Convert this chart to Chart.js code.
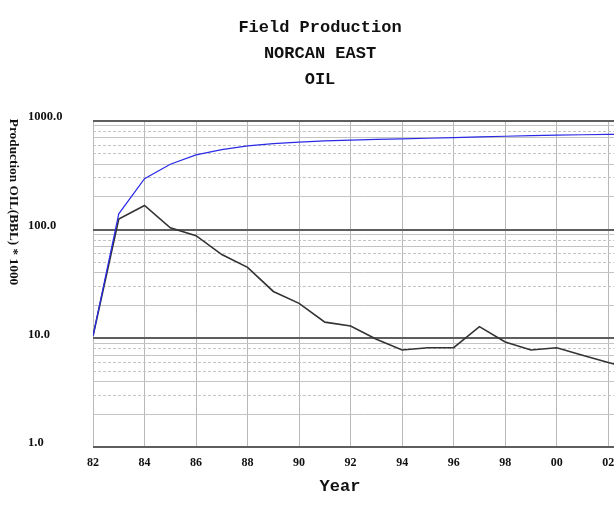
<!DOCTYPE html>
<html>
<head>
<meta charset="utf-8">
<title>Field Production - NORCAN EAST - OIL</title>
<script src="https://cdn.jsdelivr.net/npm/chart.js@4/dist/chart.umd.min.js"></script>
<style>
  html, body { margin: 0; padding: 0; background: #fff; overflow: hidden; }
  #wrap { width: 640px; height: 510px; }
</style>
</head>
<body>
<div id="wrap"><canvas id="grafico" width="640" height="510"></canvas></div>
<script>
// years on the x axis (chart continues past the right edge of the window)
const anos = [1982, 1983, 1984, 1985, 1986, 1987, 1988, 1989, 1990, 1991, 1992,
              1993, 1994, 1995, 1996, 1997, 1998, 1999, 2000, 2001, 2002, 2003];

// yearly oil production, BBL * 1000 (black line)
const producaoAnual = [10.5, 125, 167, 104, 88, 59, 45, 27, 21, 14.1, 13.0,
                       9.8, 7.8, 8.2, 8.2, 12.8, 9.25, 7.8, 8.2, 7.0, 6.0, 5.2];

// cumulative production, BBL * 1000 (blue line)
const producaoAcumulada = [10.5, 140, 295, 400, 488, 545, 590, 618, 640, 655, 668,
                           678, 686, 694, 702, 715, 724, 732, 740, 747, 753, 758];

const titulo = ["Field Production", "NORCAN EAST", "OIL"];

// axis ticks
const anosTicks = [1982, 1984, 1986, 1988, 1990, 1992, 1994, 1996, 1998, 2000, 2002];
const decadas = [1, 10, 100, 1000];
const multiplicadores = [1, 2, 3, 4, 5, 6, 7, 8, 9];
// minor lines drawn dashed (the rest are solid)
const multDashed = [3, 5, 6, 8];

const ticksY = [];
decadas.forEach(d => {
    multiplicadores.forEach(m => {
        const v = d * m;
        if (v <= 1000 && !ticksY.includes(v)) ticksY.push(v);
    });
});

function ehDecada(v) {
    return decadas.includes(v);
}

function significando(v) {
    return Math.round(v / Math.pow(10, Math.floor(Math.log10(v) + 1e-9)));
}

// title centred on the whole page, y title reads top-to-bottom,
// "Year" sits left of the plot centre
const textos = {
    id: "textos",
    afterDraw(chart) {
        const { ctx, chartArea } = chart;

        ctx.save();
        ctx.fillStyle = "#111";
        ctx.textAlign = "center";
        ctx.textBaseline = "middle";
        ctx.font = "bold 17px 'Liberation Mono'";
        titulo.forEach((linha, i) => {
            ctx.fillText(linha, 320, 28 + i * 26);
        });
        ctx.fillText("Year", chartArea.left + 247, chartArea.bottom + 40);

        ctx.font = "bold 13.3px 'Liberation Serif'";
        ctx.translate(13, chartArea.top + 81);
        ctx.rotate(Math.PI / 2);
        ctx.fillText("Production OIL(BBL) * 1000", 0, 0);
        ctx.restore();
    }
};

const ctxGrafico = document.getElementById("grafico").getContext("2d");

new Chart(ctxGrafico, {
    type: "line",
    data: {
        datasets: [
            {
                label: "Cumulative",
                data: anos.map((a, i) => ({ x: a, y: producaoAcumulada[i] })),
                borderColor: "#2a2ae6",
                borderWidth: 1.2,
                pointRadius: 0,
                tension: 0,
            },
            {
                label: "Annual",
                data: anos.map((a, i) => ({ x: a, y: producaoAnual[i] })),
                borderColor: "#333333",
                borderWidth: 1.6,
                pointRadius: 0,
                tension: 0,
            },
        ],
    },
    options: {
        responsive: false,
        animation: false,
        layout: { padding: { left: 28, right: 6, top: 121, bottom: 0 } },
        plugins: {
            legend: { display: false },
            tooltip: { enabled: false },
            title: { display: false },
        },
        scales: {
            x: {
                type: "linear",
                min: 1982,
                max: 2003,
                afterBuildTicks: scale => {
                    scale.ticks = anosTicks.map(v => ({ value: v }));
                },
                afterFit: scale => { scale.height = 63; },
                grid: { color: "#b8b8b8", lineWidth: 1, drawTicks: false },
                border: { display: false },
                ticks: {
                    autoSkip: false,
                    maxRotation: 0,
                    padding: 9,
                    color: "#111",
                    font: { family: "'Liberation Serif'", size: 12, weight: "bold" },
                    callback: v => String(v).slice(2),
                },
            },
            y: {
                type: "logarithmic",
                min: 1,
                max: 1000,
                afterBuildTicks: scale => {
                    scale.ticks = ticksY.map(v => ({ value: v }));
                },
                afterFit: scale => { scale.width = 65; },
                grid: {
                    drawTicks: false,
                    color: c => ehDecada(c.tick.value) ? "#5e5e5e" : "#c4c4c4",
                    lineWidth: c => ehDecada(c.tick.value) ? 2 : 1,
                },
                border: {
                    display: false,
                    dash: c => (c.tick && multDashed.includes(significando(c.tick.value))) ? [3, 2] : [],
                },
                ticks: {
                    autoSkip: false,
                    crossAlign: "far",
                    labelOffset: -4,
                    color: "#111",
                    font: { family: "'Liberation Serif'", size: 12.5, weight: "bold" },
                    callback: v => ehDecada(v) ? v.toFixed(1) : "",
                },
            },
        },
    },
    plugins: [textos],
});
</script>
</body>
</html>
